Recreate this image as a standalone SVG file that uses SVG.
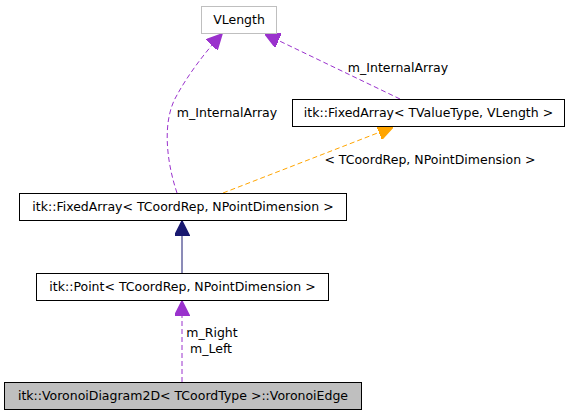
<svg xmlns="http://www.w3.org/2000/svg" width="569" height="416" viewBox="0 0 569 416">
<style>
text { font-family: "DejaVu Sans", "Liberation Sans", sans-serif; font-size: 12.5px; fill: #000; }
.node text { text-anchor: middle; }
.box { fill: #fff; stroke: #000; stroke-width: 1; }
.grey { fill: #fff; stroke: #bfbfbf; stroke-width: 1; }
.cur { fill: #bfbfbf; stroke: #000; stroke-width: 1; }
.purple { fill: none; stroke: #9a32cd; stroke-width: 1; stroke-dasharray: 5,3; }
.orange { fill: none; stroke: #ffa500; stroke-width: 1; stroke-dasharray: 5,3; }
.navy { fill: none; stroke: #191970; stroke-width: 1; }
.lbl { text-anchor: middle; }
</style>
<defs>
<marker id="mp" viewBox="0 0 10 10" refX="10" refY="5" markerWidth="15" markerHeight="15" markerUnits="userSpaceOnUse" orient="auto">
<path d="M0,0 L10,5 L0,10 Z" fill="#9a32cd" stroke="#9a32cd"/>
</marker>
<marker id="mo" viewBox="0 0 10 10" refX="10" refY="5" markerWidth="15" markerHeight="15" markerUnits="userSpaceOnUse" orient="auto">
<path d="M0,0 L10,5 L0,10 Z" fill="#ffa500" stroke="#ffa500"/>
</marker>
<marker id="mn" viewBox="0 0 10 10" refX="10" refY="5" markerWidth="15" markerHeight="15" markerUnits="userSpaceOnUse" orient="auto">
<path d="M0,0 L10,5 L0,10 Z" fill="#191970" stroke="#191970"/>
</marker>
</defs>
<rect width="569" height="416" fill="#fff"/>
<g id="connectors">
<path class="navy" d="M182,273 L182,221" marker-end="url(#mn)"/>
<path class="purple" d="M182,382 L182,301" marker-end="url(#mp)"/>
<path class="purple" d="M177,193 C166,160 162,120 177,95 C188,75 205,52 222,34" marker-end="url(#mp)"/>
<path class="purple" d="M400,99 L265,34" marker-end="url(#mp)"/>
<path class="orange" d="M223,193 L393,127" marker-end="url(#mo)"/>
<text class="lbl" x="227" y="117">m_InternalArray</text>
<text class="lbl" x="398" y="72">m_InternalArray</text>
<text class="lbl" x="430" y="164">&lt; TCoordRep, NPointDimension &gt;</text>
<text class="lbl" x="212" y="337">m_Right</text>
<text class="lbl" x="211" y="353">m_Left</text>
</g>
<g id="node-vlength" class="node">
<rect class="grey" x="201.5" y="6.5" width="75" height="27"/>
<text x="239" y="24">VLength</text>
</g>
<g id="node-fixedarray-tvaluetype" class="node">
<rect class="box" x="292.5" y="99.5" width="272" height="27"/>
<text x="428.5" y="117">itk::FixedArray&lt; TValueType, VLength &gt;</text>
</g>
<g id="node-fixedarray-tcoordrep" class="node">
<rect class="box" x="19.5" y="193.5" width="327" height="27"/>
<text x="183" y="211">itk::FixedArray&lt; TCoordRep, NPointDimension &gt;</text>
</g>
<g id="node-point" class="node">
<rect class="box" x="36.5" y="273.5" width="292" height="27"/>
<text x="182.5" y="291">itk::Point&lt; TCoordRep, NPointDimension &gt;</text>
</g>
<g id="node-voronoiedge" class="node">
<rect class="cur" x="4.5" y="382.5" width="357" height="27"/>
<text x="183" y="400">itk::VoronoiDiagram2D&lt; TCoordType &gt;::VoronoiEdge</text>
</g>
</svg>
